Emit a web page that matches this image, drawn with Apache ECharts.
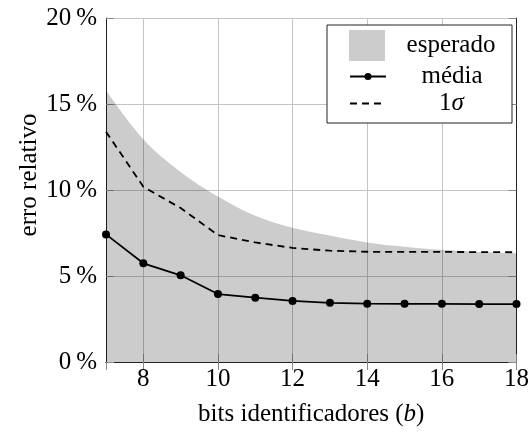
<!DOCTYPE html>
<html>
<head>
<meta charset="utf-8">
<script src="https://cdn.jsdelivr.net/npm/echarts@6/dist/echarts.min.js"></script>
<style>
  html, body { margin: 0; padding: 0; background: #fff; }
  #chart { width: 532px; height: 432px; }
</style>
</head>
<body>
<div id="chart"></div>
<script>
// Identifier bits (b)
const bits = [7, 8, 9, 10, 11, 12, 13, 14, 15, 16, 17, 18];
// Expected relative error (%), upper edge of the shaded band
const esperado = [15.8, 12.95, 11.05, 9.62, 8.5, 7.8, 7.35, 6.95, 6.7, 6.52, 6.4, 6.32];
// Mean relative error (%)
const media = [7.42, 5.74, 5.04, 3.95, 3.74, 3.55, 3.44, 3.39, 3.38, 3.38, 3.37, 3.37];
// One standard deviation (%)
const sigma = [13.39, 10.19, 8.95, 7.38, 6.95, 6.63, 6.47, 6.41, 6.40, 6.40, 6.39, 6.38];
// Y tick values
const yTicks = [0, 5, 10, 15, 20];

const FONT = 'Liberation Serif';
const FS = 25;
const pairs = arr => bits.map((b, i) => [b, arr[i]]);

const chart = echarts.init(document.getElementById('chart'), null, { renderer: 'canvas' });

const frameLine = { show: true, lineStyle: { color: '#222', width: 1 } };
const innerTick = { show: true, inside: true, length: 8, lineStyle: { color: '#8a8a8a', width: 1 } };
const gridLine = { show: true, lineStyle: { color: '#c4c4c4', width: 1 } };
const legendText = { fontSize: FS, lineHeight: 26, fontFamily: FONT, color: '#000' };

const option = {
  animation: false,
  backgroundColor: '#fff',
  textStyle: { fontFamily: FONT },
  grid: { left: 106, right: 12, top: 18, bottom: 70 },
  xAxis: [
    {
      type: 'value', min: bits[0], max: bits[bits.length - 1], splitNumber: 5,
      axisLine: frameLine, axisTick: innerTick, splitLine: gridLine,
      axisLabel: { showMinLabel: false, color: '#000', fontSize: FS, fontFamily: FONT, margin: 5 },
      name: '{n|bits identificadores (}{i|b}{n|)}',
      nameLocation: 'middle', nameGap: 40,
      nameTextStyle: {
        color: '#000',
        rich: {
          n: { fontSize: FS, fontFamily: FONT, color: '#000' },
          i: { fontSize: FS, fontFamily: FONT, fontStyle: 'italic', color: '#000' }
        }
      }
    },
    {
      type: 'value', position: 'top', min: bits[0], max: bits[bits.length - 1], splitNumber: 5,
      axisLine: frameLine, axisTick: innerTick, axisLabel: { show: false }, splitLine: { show: false }
    }
  ],
  yAxis: [
    {
      type: 'value', min: yTicks[0], max: yTicks[yTicks.length - 1], interval: yTicks[1] - yTicks[0],
      axisLine: frameLine, axisTick: innerTick, splitLine: gridLine,
      axisLabel: { color: '#000', fontSize: FS, fontFamily: FONT, margin: 9, formatter: v => v + '\u2009%' }
    },
    {
      type: 'value', position: 'right', min: yTicks[0], max: yTicks[yTicks.length - 1], interval: yTicks[1] - yTicks[0],
      axisLine: frameLine, axisTick: innerTick, axisLabel: { show: false }, splitLine: { show: false }
    }
  ],
  legend: [
    {
      data: [{ name: 'esperado', icon: 'rect' }],
      orient: 'vertical', left: 349, top: 30, padding: 0, itemGap: 0, z: 20,
      itemWidth: 36, itemHeight: 31, selectedMode: false,
      formatter: n => '{c|' + n + '}',
      textStyle: { rich: { c: Object.assign({ width: 122, align: 'center' }, legendText) } }
    },
    {
      data: [
        'média',
        { name: '1σ', itemStyle: { opacity: 0, color: 'rgba(0,0,0,0)', borderWidth: 0 } }
      ],
      orient: 'vertical', left: 349, top: 64, padding: 0, itemGap: 2, z: 20,
      itemWidth: 36, itemHeight: 9, selectedMode: false,
      formatter: n => n === '1σ' ? '{p| }{a|1}{s|σ}' : '{c|' + n + '}',
      textStyle: {
        rich: {
          c: Object.assign({ width: 122, align: 'center' }, legendText),
          p: Object.assign({ width: 48 }, legendText),
          a: Object.assign({}, legendText),
          s: Object.assign({ fontStyle: 'italic' }, legendText)
        }
      }
    }
  ],
  graphic: [
    {
      type: 'rect', shape: { x: 327, y: 25, width: 185, height: 98 },
      style: { fill: '#fff', stroke: '#222', lineWidth: 1 }, z: 10, silent: true
    },
    {
      type: 'text', x: 29, y: 175, rotation: Math.PI / 2,
      style: { text: 'erro relativo', font: FS + 'px "' + FONT + '"', fill: '#000', align: 'center', verticalAlign: 'middle' }
    }
  ],
  series: [
    {
      name: 'esperado', type: 'line', data: pairs(esperado), smooth: 0.35,
      symbol: 'none', showSymbol: false,
      lineStyle: { width: 0 },
      itemStyle: { color: 'rgba(0,0,0,0.2)' },
      areaStyle: { color: 'rgba(0,0,0,0.2)', origin: 'start', opacity: 1 },
      z: 1
    },
    {
      name: '1σ', type: 'line', data: pairs(sigma),
      symbol: 'none', showSymbol: false,
      lineStyle: { color: '#000', width: 1.8, type: [7, 5] },
      itemStyle: { color: '#000' },
      z: 2
    },
    {
      name: 'média', type: 'line', data: pairs(media),
      symbol: 'circle', symbolSize: 8,
      lineStyle: { color: '#000', width: 1.8 },
      itemStyle: { color: '#000' },
      z: 3
    }
  ]
};

chart.setOption(option);
</script>
</body>
</html>
